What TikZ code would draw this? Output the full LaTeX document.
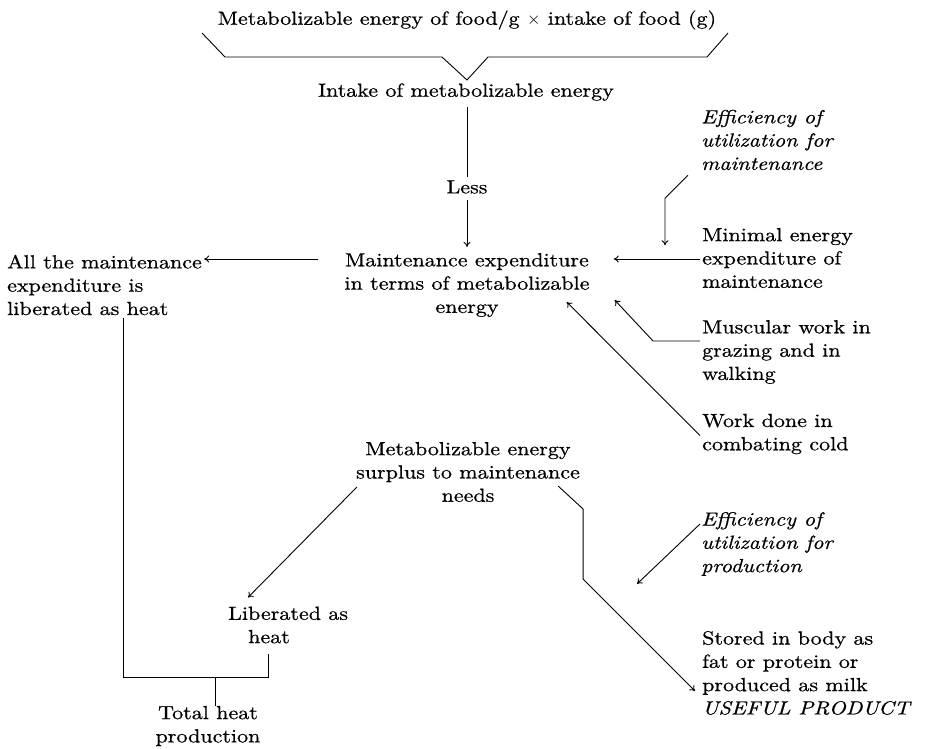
\documentclass[tikz,border=0pt]{standalone}
\usepackage{fontspec}
\setmainfont{lmroman10-regular}[Extension=.otf, ItalicFont=lmroman10-italic, BoldFont=lmroman10-bold, FakeStretch=1.16, FakeBold=0.6]
\usetikzlibrary{arrows.meta}
\begin{document}
\begin{tikzpicture}[x=1pt,y=-1pt,
  txt/.style={inner sep=0pt, font=\fontsize{19}{23.3}\selectfont},
  lbl/.style={txt, align=left, anchor=west},
  ctr/.style={txt, align=center},
  ital/.style={lbl, font=\fontsize{19}{23.3}\selectfont\itshape},
  conn/.style={line width=0.9pt},
  arr/.style={conn, -{To[length=5pt,width=7pt]}}]
\useasboundingbox (0,0) rectangle (927,748);
% nodes
\node[ctr] (food) at (467,20) {Metabolizable energy of food/g $\times$ intake of food (g)};
\node[ctr] (intake) at (466,92) {Intake of metabolizable energy};
\node[ctr] (less) at (467,187) {Less};
\node[ctr] (maint) at (467,285) {Maintenance expenditure\\in terms of metabolizable\\energy};
\node[lbl] (allheat) at (7,285) {All the maintenance\\expenditure is\\liberated as heat};
\node[ital] (effm) at (701,140) {Efficiency of\\utilization for\\maintenance};
\node[lbl] (minimal) at (702,258) {Minimal energy\\expenditure of\\maintenance};
\node[lbl] (muscular) at (702,352) {Muscular work in\\grazing and in\\walking};
\node[lbl] (cold) at (702,434) {Work done in\\combating cold};
\node[ctr] (surplus) at (468,472) {Metabolizable energy\\surplus to maintenance\\needs};
\node[ital] (effp) at (701,544) {Efficiency of\\utilization for\\production};
\node[lbl] (stored) at (702,673) {Stored in body as\\fat or protein or\\produced as milk\\\textit{USEFUL PRODUCT}};
\node[lbl] (libheat) at (228,625) {Liberated as\\\hspace*{20pt}heat};
\node[ctr] (total) at (208,726) {Total heat\\production};
% brace under the top line
\coordinate (bl) at (202,33);
\coordinate (br) at (728,33);
\coordinate (vtip) at (467,80);
\draw[conn] (bl) -- (225,57) -- (442,57) -- (vtip) -- (488,57) -- (707,57) -- (br);
% main column
\coordinate (r1) at (0,259);
\draw[conn, shorten <=6.5pt, shorten >=3.5pt] (intake.south -| less) -- (less.north);
\draw[arr, shorten <=6.5pt, shorten >=6pt] (less.south) -- (less.south |- maint.north);
\draw[arr] ([xshift=-26pt]maint.west |- r1) -- ([xshift=2pt]allheat.east |- r1);
\draw[arr] ([xshift=-2pt]minimal.west |- r1) -- ([xshift=24pt]maint.east |- r1);
\draw[arr] ([xshift=-13pt,yshift=-5pt]effm.south west) -- ++(-23,23) -- ++(0,47);
\draw[arr] ([xshift=-2pt,yshift=-21pt]muscular.north west) -- ++(-47,0) -- ([xshift=25pt,yshift=17pt]maint.south east);
\draw[arr] ([xshift=-2pt,yshift=-22pt]cold.north west) -- ([xshift=-23pt,yshift=15pt]maint.south east);
% surplus branch
\draw[arr] ([xshift=1pt,yshift=-15pt]surplus.west) -- ([xshift=20pt,yshift=9pt]libheat.north west);
\draw[arr] ([xshift=-22pt,yshift=-14pt]surplus.east) -- ++(25,23) -- ++(0,70) -- ([xshift=-7pt,yshift=-18pt]stored.west);
\draw[arr] ([xshift=-1pt,yshift=-12pt]effp.north west) -- ++(-63,60);
% heat bracket
\coordinate (hb) at (123,677);
\coordinate (hr) at (268,677);
\coordinate (ht) at (215,677);
\draw[conn] ([xshift=116pt,yshift=-3pt]allheat.south west) -- (hb) -- (hr) -- (268,654);
\draw[conn] (ht) -- (ht |- total.north);
\end{tikzpicture}
\end{document}
